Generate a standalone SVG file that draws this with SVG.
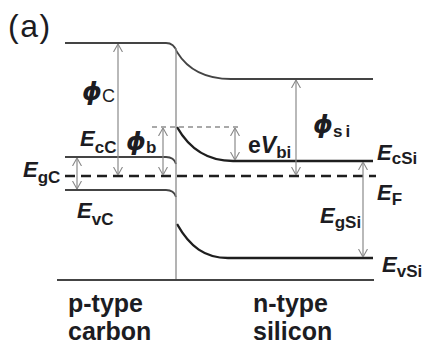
<svg xmlns="http://www.w3.org/2000/svg" width="423" height="345" viewBox="0 0 423 345">
<defs>
<marker id="ah" viewBox="0 0 8 10" refX="8" refY="5" markerWidth="8" markerHeight="10" markerUnits="userSpaceOnUse" orient="auto-start-reverse">
<path d="M0,0.5 L8,5 L0,9.5" fill="none" stroke="#888" stroke-width="1.1"/>
</marker>
<style>
.lvl{fill:none;stroke:#444;stroke-width:1.8}
.band{fill:none;stroke:#1e1e1e;stroke-width:2.4}
.arr{fill:none;stroke:#8a8a8a;stroke-width:1.2;marker-start:url(#ah);marker-end:url(#ah)}
text{font-family:"Liberation Sans",Arial,sans-serif;fill:#1c1c22}
.E{font-size:22px;font-weight:bold;font-style:italic}
.sub{font-size:17px;font-weight:bold;font-style:normal;font-family:"Liberation Sans",Arial,sans-serif}
.phi{font-size:25px;font-weight:bold;font-style:italic;font-family:"DejaVu Sans","Liberation Sans",sans-serif}
.lab{font-size:25px;font-weight:bold}
</style>
</defs>
<g id="levels">
<path class="lvl" d="M65,43 H166 Q174,43 177,52 C188,70 205,79 231,79 H373"/>
<path class="lvl" d="M65,157 H166 Q174,157 176,164"/>
<path class="lvl" d="M65,190 H166 Q174,190 176,197"/>
<path class="band" d="M177,127 C190,150 210,161 233,161 H373"/>
<path class="band" d="M177,224 C190,247 205,258 228,258 H373"/>
<line x1="65" y1="176" x2="376" y2="176" stroke="#1e1e1e" stroke-width="2.6" stroke-dasharray="10,6"/>
<line x1="152" y1="127" x2="242" y2="127" stroke="#555" stroke-width="1.2" stroke-dasharray="5,4"/>
<line x1="176" y1="48" x2="176" y2="280" stroke="#8a8a8a" stroke-width="1.3"/>
<line x1="57" y1="280" x2="374" y2="280" stroke="#444" stroke-width="2"/>
</g>
<g id="connectors">
<line class="arr" x1="118" y1="44" x2="118" y2="175"/>
<line class="arr" x1="163" y1="128" x2="163" y2="175"/>
<line class="arr" x1="77" y1="158" x2="77" y2="189"/>
<line class="arr" x1="235" y1="128" x2="235" y2="160"/>
<line class="arr" x1="296" y1="80" x2="296" y2="175"/>
<line class="arr" x1="363" y1="162" x2="363" y2="257"/>
</g>
<g id="title"><text x="8" y="37" font-size="32" letter-spacing="1.5">(a)</text></g>
<g id="phiC"><text class="phi" x="82" y="100">ϕ<tspan font-size="18px" font-style="normal" font-weight="normal" font-family="Liberation Sans,Arial,sans-serif" dy="2">C</tspan></text></g>
<g id="EcC"><text class="E" x="80" y="146">E<tspan class="sub" dy="7">cC</tspan></text></g>
<g id="phib"><text class="phi" x="126" y="150">ϕ<tspan class="sub" dy="3">b</tspan></text></g>
<g id="EgC"><text class="E" x="23" y="177">E<tspan class="sub" dy="6">gC</tspan></text></g>
<g id="EvC"><text class="E" x="77" y="218">E<tspan class="sub" dy="7">vC</tspan></text></g>
<g id="eVbi"><text x="248" y="153" font-size="23" font-weight="bold">e<tspan font-style="italic">V</tspan><tspan class="sub" dy="5">bi</tspan></text></g>
<g id="phisi"><text class="phi" x="313" y="133">ϕ<tspan class="sub" dy="4" letter-spacing="3">si</tspan></text></g>
<g id="EcSi"><text class="E" x="377" y="160">E<tspan class="sub" dy="4">cSi</tspan></text></g>
<g id="EF"><text class="E" x="377" y="200">E<tspan class="sub" dy="5">F</tspan></text></g>
<g id="EgSi"><text class="E" x="320" y="223">E<tspan class="sub" dy="5">gSi</tspan></text></g>
<g id="EvSi"><text class="E" x="382" y="272">E<tspan class="sub" dy="5">vSi</tspan></text></g>
<g id="ptype"><text class="lab" x="68" y="312">p-type</text><text class="lab" x="68" y="340">carbon</text></g>
<g id="ntype"><text class="lab" x="253" y="312">n-type</text><text class="lab" x="253" y="340">silicon</text></g>
</svg>
